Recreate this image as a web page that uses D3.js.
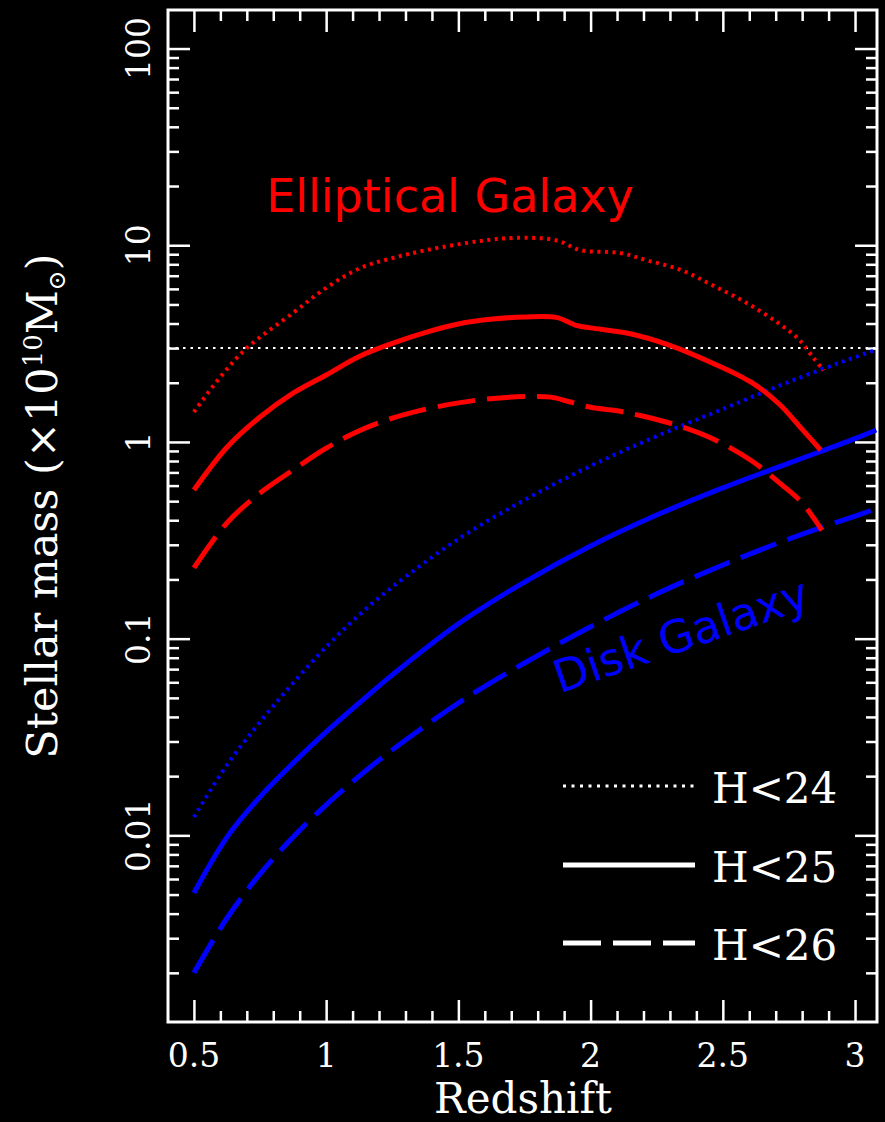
<!DOCTYPE html>
<html lang="en">
<head>
<meta charset="UTF-8" />
<title>Stellar mass limit vs redshift</title>
<script src="https://cdn.jsdelivr.net/npm/d3@7"></script>
<style>
  html, body { margin: 0; padding: 0; background: #000; }
  svg { display: block; }
</style>
</head>
<body>
<div id="chart_svg"></div>
<script>
// tick values
const xMajor = [0.5, 1, 1.5, 2, 2.5, 3]
const yMajor = [0.01, 0.1, 1, 10, 100]
const legendLabels = ['H<24', 'H<25', 'H<26']
const massLimit = 3

// Elliptical galaxy (red)
const zEllH24 = [0.5, 0.6, 0.7, 0.875, 1.0, 1.13, 1.25, 1.38, 1.58, 1.71, 1.87, 1.96, 2.11, 2.21, 2.34, 2.46, 2.59, 2.71, 2.79, 2.84, 2.88]
const mEllH24 = [1.42, 2.14, 3.0, 4.53, 6.07, 7.67, 8.6, 9.45, 10.5, 10.9, 10.6, 9.45, 9.14, 8.4, 7.5, 6.27, 5.09, 4.02, 3.3, 2.7, 2.32]
const zEllH25 = [0.5, 0.625, 0.75, 0.875, 1.0, 1.125, 1.25, 1.38, 1.5, 1.62, 1.75, 1.87, 1.95, 2.0, 2.15, 2.3, 2.46, 2.61, 2.715, 2.79, 2.87]
const mEllH25 = [0.57, 0.94, 1.34, 1.77, 2.19, 2.72, 3.17, 3.62, 3.98, 4.2, 4.32, 4.3, 3.9, 3.8, 3.55, 3.1, 2.52, 2.0, 1.55, 1.2, 0.91]
const zEllH26 = [0.5, 0.625, 0.75, 0.875, 1.0, 1.125, 1.25, 1.38, 1.5, 1.62, 1.75, 1.85, 1.92, 2.0, 2.1, 2.2, 2.34, 2.46, 2.61, 2.72, 2.8, 2.875]
const mEllH26 = [0.229, 0.388, 0.55, 0.72, 0.93, 1.14, 1.32, 1.47, 1.58, 1.66, 1.7, 1.69, 1.6, 1.5, 1.44, 1.35, 1.2, 1.04, 0.8, 0.61, 0.49, 0.355]

// Disk galaxy (blue)
const zDisk = [0.5, 0.625, 0.75, 0.875, 1.0, 1.125, 1.25, 1.5, 1.75, 2.0, 2.25, 2.5, 2.75, 3.0, 3.08]
const mDiskH24 = [0.0124, 0.0228, 0.0377, 0.0595, 0.0908, 0.132, 0.183, 0.321, 0.507, 0.755, 1.07, 1.47, 2.02, 2.7, 2.94]
const mDiskH25 = [0.0051, 0.0098, 0.0157, 0.0233, 0.0336, 0.0471, 0.0654, 0.119, 0.194, 0.296, 0.425, 0.584, 0.78, 1.04, 1.15]
const mDiskH26 = [0.002, 0.0038, 0.00637, 0.0098, 0.0143, 0.02, 0.0272, 0.0471, 0.0752, 0.115, 0.169, 0.237, 0.321, 0.42, 0.457]

const width = 885
const height = 1122
const plotLeft = 168, plotRight = 877, plotTop = 10, plotBottom = 1022
const serif = 'DejaVu Serif, serif'
const sans = 'DejaVu Sans, sans-serif'

const dashes = { dotted: '3,4.5', solid: null, dashed: '38,12' }
const series = [
  { z: zDisk, m: mDiskH24, color: '#0000ff', style: 'dotted' },
  { z: zDisk, m: mDiskH25, color: '#0000ff', style: 'solid' },
  { z: zDisk, m: mDiskH26, color: '#0000ff', style: 'dashed' },
  { z: zEllH24, m: mEllH24, color: '#ff0000', style: 'dotted' },
  { z: zEllH25, m: mEllH25, color: '#ff0000', style: 'solid' },
  { z: zEllH26, m: mEllH26, color: '#ff0000', style: 'dashed' }
]

const x = d3.scaleLinear().domain([0.402, 3.083]).range([plotLeft, plotRight])
const y = d3.scaleLog().domain([0.001125, 157]).range([plotBottom, plotTop])

const svg = d3.select('#chart_svg')
  .append('svg')
  .attr('width', width)
  .attr('height', height)
  .style('background', '#000')

// minor ticks
const xMinor = d3.range(6, 31).map(d => d / 10).filter(d => !xMajor.includes(d))
const yMinor = []
for (let e = -3; e <= 2; e++) {
  for (let k = 2; k <= 9; k++) {
    const v = k * Math.pow(10, e)
    if (v > y.domain()[0] && v < y.domain()[1]) yMinor.push(+v.toPrecision(3))
  }
}

function drawAxis(axis, tx, ty) {
  const g = svg.append('g').attr('transform', `translate(${tx},${ty})`).call(axis)
  g.select('.domain').remove()
  g.selectAll('.tick line').attr('stroke', '#fff').attr('stroke-width', 2.5)
  return g
}

const sides = [
  [d3.axisBottom, x, 0, plotBottom],
  [d3.axisTop, x, 0, plotTop],
  [d3.axisLeft, y, plotLeft, 0],
  [d3.axisRight, y, plotRight, 0]
]
sides.forEach(([fn, scale, tx, ty]) => {
  const major = scale === x ? xMajor : yMajor
  const minor = scale === x ? xMinor : yMinor
  drawAxis(fn(scale).tickValues(major).tickSize(-22).tickFormat(''), tx, ty)
  drawAxis(fn(scale).tickValues(minor).tickSize(-11).tickFormat(''), tx, ty)
})

// frame
svg.append('rect')
  .attr('x', plotLeft).attr('y', plotTop)
  .attr('width', plotRight - plotLeft).attr('height', plotBottom - plotTop)
  .attr('fill', 'none').attr('stroke', '#fff').attr('stroke-width', 3)

// tick labels
svg.append('g').selectAll('text')
  .data(xMajor)
  .join('text')
  .attr('x', d => x(d))
  .attr('y', 1067)
  .attr('text-anchor', 'middle')
  .attr('font-family', serif).attr('font-size', 33).attr('fill', '#fff')
  .text(d => d)

svg.append('g').selectAll('text')
  .data(yMajor)
  .join('text')
  .attr('transform', d => `translate(150,${y(d)}) rotate(-90)`)
  .attr('text-anchor', 'middle')
  .attr('font-family', serif).attr('font-size', 33).attr('fill', '#fff')
  .text(d => d)

// axis titles
svg.append('text')
  .attr('x', 523).attr('y', 1113)
  .attr('text-anchor', 'middle')
  .attr('font-family', serif).attr('font-size', 42).attr('fill', '#fff')
  .text('Redshift')

const yTitle = svg.append('text')
  .attr('transform', 'translate(57,506) rotate(-90)')
  .attr('text-anchor', 'middle')
  .attr('font-family', serif).attr('font-size', 43).attr('fill', '#fff')
yTitle.append('tspan').text('Stellar mass (×10')
yTitle.append('tspan').attr('font-size', 26).attr('dy', -15).text('10')
yTitle.append('tspan').attr('dy', 15).text('M')
yTitle.append('tspan').attr('font-size', 24).attr('dy', 8).text('⊙')
yTitle.append('tspan').attr('dy', -8).text(')')

// horizontal mass limit
svg.append('line')
  .attr('x1', plotLeft).attr('x2', plotRight)
  .attr('y1', y(massLimit)).attr('y2', y(massLimit))
  .attr('stroke', '#fff').attr('stroke-width', 2).attr('stroke-dasharray', '2.5,5')

// curves
const line = d3.line()
  .x(d => x(d[0]))
  .y(d => y(d[1]))
  .curve(d3.curveCatmullRom.alpha(0.5))

svg.append('g').selectAll('path')
  .data(series)
  .join('path')
  .attr('d', s => line(d3.zip(s.z, s.m)))
  .attr('fill', 'none')
  .attr('stroke', s => s.color)
  .attr('stroke-width', s => (s.style === 'dotted' ? 4 : 5))
  .attr('stroke-dasharray', s => dashes[s.style])

// galaxy labels
svg.append('text')
  .attr('x', 450).attr('y', 212)
  .attr('text-anchor', 'middle')
  .attr('font-family', sans).attr('font-size', 46).attr('fill', '#ff0000')
  .text('Elliptical Galaxy')

svg.append('text')
  .attr('transform', 'translate(686,650) rotate(-19)')
  .attr('text-anchor', 'middle')
  .attr('font-family', sans).attr('font-size', 45).attr('fill', '#0000ff')
  .text('Disk Galaxy')

// legend
const legendY = [786, 865, 943]
const styles = ['dotted', 'solid', 'dashed']
const legend = svg.append('g').selectAll('g')
  .data(legendLabels)
  .join('g')
  .attr('transform', (d, i) => `translate(0,${legendY[i]})`)

legend.append('line')
  .attr('x1', 563).attr('x2', 695)
  .attr('stroke', '#fff')
  .attr('stroke-width', (d, i) => (styles[i] === 'dotted' ? 3 : 5))
  .attr('stroke-dasharray', (d, i) => (styles[i] === 'dotted' ? '3,5.5' : dashes[styles[i]]))

legend.append('text')
  .attr('x', 712).attr('y', 17)
  .attr('font-family', serif).attr('font-size', 42).attr('fill', '#fff')
  .text(d => d)
</script>
</body>
</html>
